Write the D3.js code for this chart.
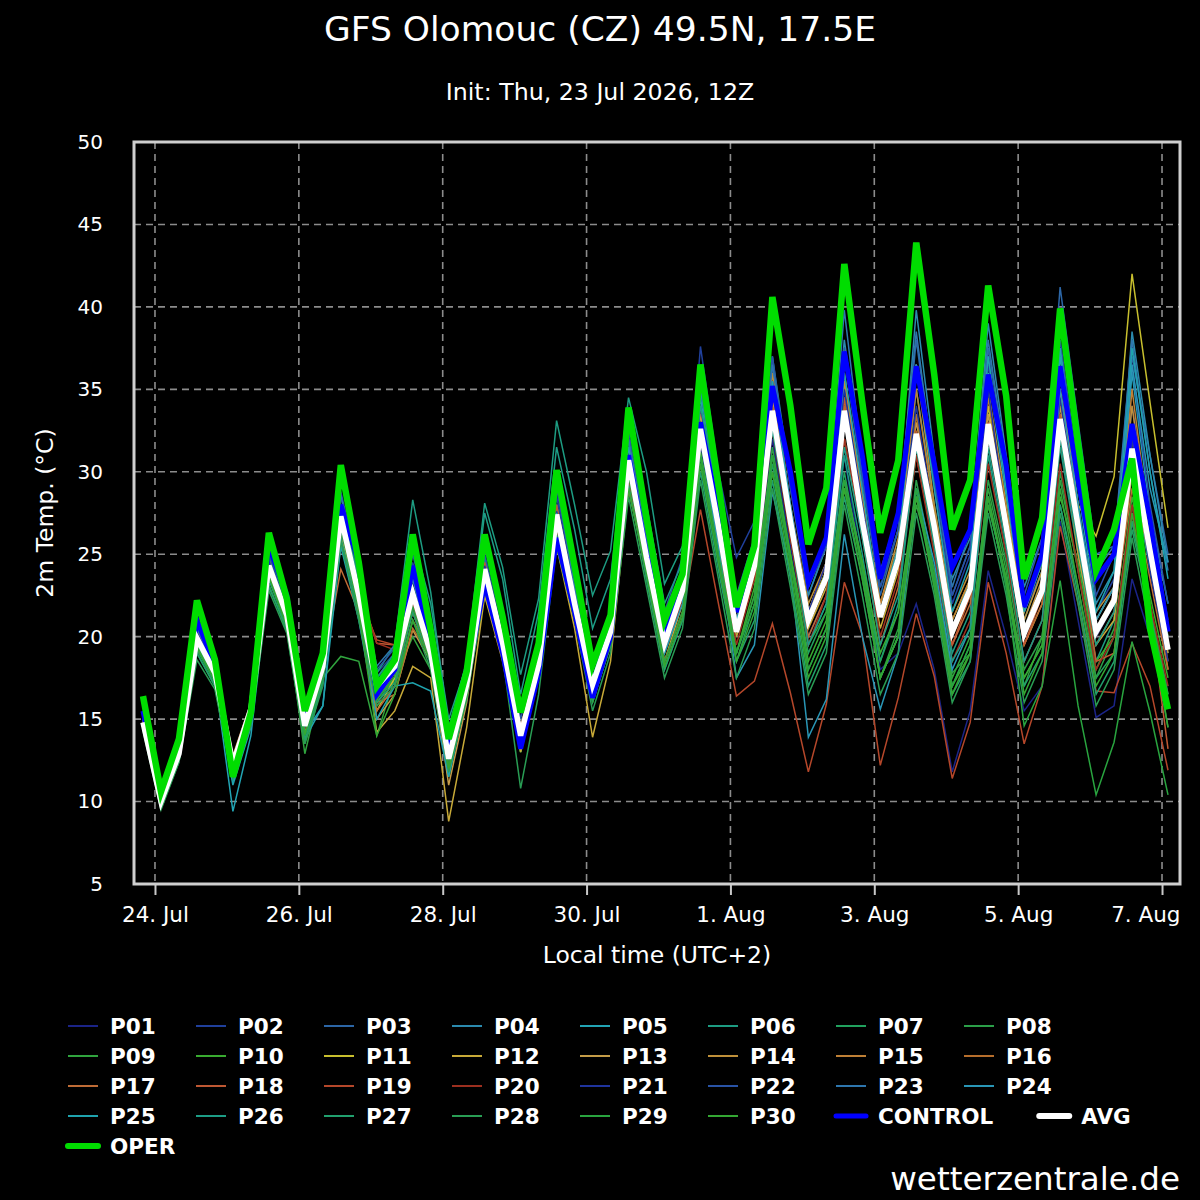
<!DOCTYPE html>
<html>
<head>
<meta charset="utf-8">
<script src="https://cdn.jsdelivr.net/npm/d3@7"></script>
<style type="text/css">
    body { margin: 0; background: #000; }
    svg { display: block; background: #000; }
    text { fill: #fff; font-family: "DejaVu Sans", sans-serif; }
    .title { font-size: 34.5px; text-anchor: middle; }
    .subtitle { font-size: 23.7px; text-anchor: middle; }
    .axis text { fill: #fff; font-family: "DejaVu Sans", sans-serif; }
    .yaxis text { font-size: 20px; }
    .xaxis text { font-size: 21.5px; }
    .axis path { display: none; }
    .axis line { stroke: #c8c8c8; stroke-width: 2; }
    .grid line { stroke: #8c8c8c; stroke-width: 1.6; stroke-dasharray: 7,5; }
    .label { font-size: 23.5px; text-anchor: middle; }
    .legend text { font-size: 21.5px; font-weight: bold; }
    .member { fill: none; stroke-width: 1.5; }
</style>
</head>
<body>
<div id="chart"></div>
<script type="text/javascript">
    // time of first value, local time UTC+2 (init 23 Jul 12Z + 6h), 6-hourly steps
    var firstStep = Date.UTC(2026, 6, 23, 20);
    var stepHours = 6;

    var oper = [16.4,10.6,13.8,22.2, 18.6,11.5,15.4,26.3, 22.3,15.5,19.0,30.4, 24.5,17.0,18.6,26.2,
        20.4,13.8,17.9,26.2, 21.2,15.4,19.6,30.1, 24.3,18.3,21.3,33.9, 27.2,21.0,23.8,36.5,
        29.2,21.8,25.5,40.6, 34.0,25.6,29.0,42.6, 34.2,26.3,30.7,43.9, 35.9,26.5,29.5,41.3,
        34.6,23.5,27.2,39.9, 31.7,24.0,26.5,30.8, 20.5,15.6];
    var avg = [14.8,10.0,12.9,19.9, 17.8,12.3,15.6,24.3, 21.3,14.6,18.2,27.3, 22.5,17.0,18.2,22.6,
        19.0,12.6,17.1,24.1, 19.6,14.0,18.3,27.4, 22.0,17.1,20.3,30.7, 24.8,19.6,22.8,32.6,
        26.7,20.3,24.3,33.7, 27.0,21.0,23.6,33.7, 27.0,21.2,24.7,32.3, 26.7,20.3,22.9,32.9,
        26.7,20.2,22.8,33.2, 26.7,20.3,22.2,31.4, 25.2,19.2];
    var control = [15.5,10.3,13.3,21.0, 18.2,11.8,15.5,25.5, 22.5,15.0,18.5,28.0, 24.5,16.5,18.0,24.3,
        19.5,13.0,17.5,23.2, 19.0,13.2,17.8,26.0, 21.5,16.3,20.0,31.0, 25.0,20.0,23.0,33.0,
        27.5,21.5,25.0,35.2, 30.0,23.3,26.0,37.3, 31.0,23.5,27.5,36.4, 30.5,24.2,26.5,35.9,
        30.4,21.8,25.0,36.4, 29.5,23.5,25.0,32.9, 27.0,20.3];

    var p01 = [15,10.2,13,20, 18,12.5,15.5,24.5, 21.5,14.8,18.5,27.5, 23,17.5,18.5,23.5, 19.5,13,17,24, 19.5,13.5,18,26.5, 21.5,16.5,20,30, 24,19,22,31.5, 26,20,23.5,32, 25.5,20,22.5,31, 24,18,19,22, 18,11.8,15.5,24, 20,15.5,17,27, 21,15.1,15.8,23.5, 20,17];
    var p02 = [15.2,10.4,13.2,20.5, 18.2,12.4,15.8,25, 22,15,18.8,28.5, 23.5,17.8,19,24.5, 20,13.5,17.5,25, 20.5,14.5,19,28.5, 23,18,21,32, 26,21,24,37.6, 30,24.8,27,36, 30,23,26,37, 30,23.5,27.5,36.5, 29,22,25,36.5, 29,21.5,24,35, 28,21.5,23.5,34, 27,21];
    var p03 = [14.8,10.1,13,20.2, 18,12.3,15.8,24.8, 21.8,15.2,18.6,28, 23,17.5,18.8,24, 19.5,13,17.3,24.8, 20,14.3,18.6,28, 22.5,17.5,20.8,31.5, 25.5,20.5,23.5,35, 28.5,22,25.5,36.5, 29,22.5,25.5,37, 29.5,22.5,26.5,38, 30,22.5,25.5,37.5, 30.5,23.5,27,41.2, 33,25,25.5,37, 31,25];
    var p04 = [15,9.8,12.8,19.8, 17.8,12,15.2,24, 21.2,14.4,18,27.5, 22.8,17.2,18.4,23.5, 19.2,12.4,17,24.5, 20,14.5,18.5,28, 22.5,17.5,21,32, 25.5,20,23.5,35, 28,21.5,25,37, 29.5,22.5,25.5,38, 30,23,26.5,39.8, 31,23.5,26,39, 31,23,26,37.5, 30,22,24,38.5, 31,24.5];
    var p05 = [14.5,9.8,12.6,19.5, 17.5,9.4,14,23.5, 20.8,14,17.5,26.5, 22,16.5,18,22.5, 19,12,16.8,24, 19.5,13.5,18,27, 22,16.5,20,30.5, 25,19.5,22.5,33.5, 27,20.5,24,35, 28,21.5,24.5,35.5, 28.5,21.5,25,35, 28,20.5,23.5,36, 28.5,21,24,37, 28,21,23,36, 27.5,22];
    var p06 = [14.6,10,13,20, 17.6,12,15.5,24.5, 21.5,14.8,18.5,27.8, 23.5,17.8,19.5,28.3, 22.7,14.5,18.5,28.1, 24.2,17.7,22.3,33.1, 28,22.5,25.2,34.5, 30,23.2,25.5,33, 28,21,23.5,33, 27,19.5,22,31, 25,18.5,22,31.5, 26,19,21.5,31, 25,18.5,21,31.5, 25,18.5,21,30, 24,19];
    var p07 = [14.5,9.8,12.6,19.2, 17.2,12,15,23.5, 20.5,14,17.5,26.5, 21.5,16,17.5,21.5, 18.5,12,16.5,23.5, 19,13,17.5,26.5, 21,16,19.5,29.5, 23.5,18,21,30.5, 24.5,18.5,22,30.5, 24.5,19,21.5,30, 24,18.5,21.5,28.5, 23.5,17,19.5,28, 23.5,17.5,19.5,28, 23,17.5,19,26.5, 21.5,16.5];
    var p08 = [14.4,9.6,12.5,19, 17,11.5,14.8,23.2, 20.3,13.5,17.2,26.2, 21.2,16.2,17.5,22, 18.8,12.2,16.8,23.8, 19.2,13.2,17.8,27.5, 21.5,16.5,19.8,29.8, 24,18.5,21.5,31, 25,19,22.5,31.5, 25,18,20.5,29, 24.5,17.5,20,29.5, 24,17.8,19,29.5, 24.5,18,20,30, 24,17.5,20,28, 22,16.5];
    var p09 = [14.6,9.9,12.8,19.5, 17.5,12,15.3,23.8, 20.8,12.9,17.5,18.8, 18.5,14,17.5,20, 18,11.5,16.5,22.5, 19,13,17.5,26, 21.5,16,19.5,29, 24,18.5,21.5,31, 25.5,19,22.5,30, 25,19.5,21.5,29.5, 24.5,17.5,20,28, 24,17.5,20,29, 24,17,20,29.5, 24,18,20.5,27, 22,16];
    var p10 = [14.7,10,12.9,19.8, 17.6,12.2,15.4,24, 21,14.5,18,27, 22,16.8,18,22, 18.8,12.4,16.8,23.5, 19.4,13.8,18,27, 21.5,16.5,19.8,29.5, 24.2,19,22,31.2, 25.5,19,23,31, 25,18.5,21,29.5, 24.5,19,21.5,29, 23.5,17,19,28, 23.5,17.5,19.5,28.5, 24.5,18.5,20,28.5, 22.5,17.5];
    var p11 = [14.9,10.1,13,20, 17.9,12.4,15.6,24.2, 21.2,14.6,18.2,27, 22,15.5,17.5,23, 19,12.5,17,24, 19.5,14.5,18.5,27, 22,17,20,30.5, 25,20,23,33, 27,21,24.5,34, 27.5,21.5,24,34.5, 27.5,21.5,25,33.5, 27,21,23.5,34, 27,21.5,24.5,35, 28,26.1,29.7,42, 34.2,26.6];
    var p12 = [14.7,10,12.9,19.8, 17.8,12.3,15.5,24, 21,14.3,17.8,25.5, 22,14.2,15.5,18.2, 17.5,8.8,14.5,22.5, 18.5,13,17.5,25.5, 20.5,13.9,18.5,29, 24,18.5,22,32, 26,20,23.5,33, 26.5,20.5,23,33.5, 26.5,20.5,24,32, 26,20,22.5,32.5, 26.5,19.5,22,33, 25,19.5,21,30, 24.5,18];
    var p13 = [14.8,10.2,13.1,20.1, 18,12.5,15.8,24.5, 21.5,14.8,18.3,26, 22.5,15,16.5,20.4, 18.5,11,16,23.5, 19.5,14,18.5,27, 22,16.5,20,30, 25,20,23,33.5, 27,21,25,34.5, 27.5,21.5,24.5,34.5, 28,22,25.5,33, 27.5,20.5,23,33.5, 27,20.5,23.5,34, 27,20.5,22.5,32, 25.5,19];
    var p14 = [14.9,10.1,13,19.9, 17.9,12.4,15.7,24.4, 21.3,14.7,18.3,27.2, 22.3,16.2,17.8,21.5, 18.8,12.3,17,24, 19.5,14,18.4,27.2, 22,17,20.5,31, 25.2,20,23.2,34, 27.5,21.5,25,36, 28,22,24.5,35.5, 28.5,22,26,36.5, 28,21.5,24,35, 28,21,24,36, 27.5,21.5,23,34, 26,20];
    var p15 = [15,10.3,13.2,20.3, 18.3,12.6,16,24.6, 21.6,14.8,18.4,27, 22.6,15.8,17,22, 19,12.5,17.2,24.3, 19.8,14.2,18.5,27.5, 22,17.2,20.5,30.8, 25,20,23,33, 27,21,24.5,35, 28,21.5,24.5,36, 28.5,22,25.5,35, 27.5,21,23.5,34.5, 27.5,20.5,23,34.5, 27,21,23,35, 26.5,20.5];
    var p16 = [15.1,10.2,13.1,20.4, 18.5,12.8,16,24.5, 21.5,14.7,18.3,26.5, 22.5,16,16.5,20.5, 18.8,12.5,17,24, 19.5,14,18.2,27, 21.8,17,20.3,30.5, 24.8,19.8,22.8,32.5, 26.5,20.5,24,34, 27,21,23.5,34, 27.5,21.5,24.5,33.5, 27,20.5,23,33, 27,20.5,22.5,33.5, 26.5,20,22,31, 24.5,18.5];
    var p17 = [15,10,13,20, 18.8,12.5,15.8,24.2, 21.5,14.5,18,24.1, 21.5,15.5,17,21, 19,12.8,17.5,24, 19.5,14,18.5,27.5, 22,17,20.5,31, 25,19.5,22.5,32.5, 27,20.5,24,33.5, 26,20,22.5,32, 26,19.5,23,31, 25.5,19.5,22,32, 26,19.5,22,32, 25.5,19.5,21.5,29, 23.5,18];
    var p18 = [15,10.1,13,20.2, 18.3,12.5,15.8,24.3, 21.6,14.6,18.3,27, 23,19.6,19.5,22.5, 19,12.8,17.2,24.5, 20,14.5,18.8,28, 22.5,17.5,20.5,31, 25,20,23,34, 27,21,24.5,35, 27.5,21,24,34.5, 27.5,21.5,25,32.5, 26.5,19.5,22.5,33, 26.5,19.5,22.5,33.5, 26,18.5,19,27.5, 21.5,13.2];
    var p19 = [14.8,10,12.9,19.8, 17.8,12.2,15.5,24, 21,14.5,18,26.5, 22.5,19.8,19.5,21.5, 18.5,12.5,17,23.5, 19,13.5,17.8,26.5, 21.5,16.5,19.5,29.5, 24,18.5,21.5,27.7, 22,16.4,17.3,20.8, 16.6,11.8,15.9,23.3, 20.1,12.2,16.3,21.4, 17.6,11.4,14.8,23.3, 19,13.5,17,26.7, 22,16.7,16.6,19.6, 17,11.9];
    var p20 = [14.9,10,12.8,19.6, 17.6,12.1,15.4,23.8, 21,14.4,18,26.8, 22.8,19.6,19.2,22, 18.8,12.4,16.8,23.8, 19.2,13.6,18,27, 21.8,16.8,20,30, 24.5,19.2,22.2,32, 26,19.5,23.5,32.5, 26,19.5,22.5,32, 26.5,20,23.5,31, 25,18.5,21,30.5, 25,18.5,21,30.5, 24,18,20,28, 22,17];
    var p21 = [15,10.3,13.1,20.3, 18,12.4,15.7,24.6, 21.5,14.7,18.4,27.5, 22.8,17,18.2,23, 19.3,12.8,17.2,24.3, 19.8,14.2,18.4,27.6, 22.2,17.2,20.5,31, 25.5,20.2,23.5,34, 27.5,21,24.8,35.5, 28,21.5,24.5,35, 28,21.5,25,34, 27,20,23,35, 27,20.5,23,34.5, 27,20,22,32, 24,18.5];
    var p22 = [15.1,10.2,13.2,20.6, 18.4,12.6,16,25.2, 22,15.2,18.8,28.8, 24,18,19.3,25, 20.5,14,17.8,25.5, 21,15,19.5,29, 23,18,21.5,32.5, 26,21.5,24.8,36, 29,22.5,26,37, 29,23,25.5,37.5, 29.5,23,26.5,36.5, 29.5,22.5,25.5,37, 29.5,22.5,26,38, 30,22.5,25,36.5, 28,22];
    var p23 = [15,10.2,13.1,20.5, 18.2,12.5,15.9,25.5, 21.8,15.4,19,28.6, 23.8,18.2,19.5,25.5, 20.8,14.2,18,25.8, 21.5,15.5,20,29.5, 23,18.2,21.2,32, 25.8,20.8,24,35.5, 28.5,22,25.5,36.5, 29.5,23.5,26,39.8, 30.5,24,27.5,38.5, 30,23,26.5,38, 30.5,23.5,27,39.5, 31,24,25.5,38, 30,24];
    var p24 = [14.6,9.7,12.7,19.6, 17.5,11.2,14.8,24, 21,14.2,15.8,26.5, 22.5,17,18,22.5, 19,12.5,17,24, 19.5,14,18,27, 22,17,20,30.5, 24.5,19,22,32, 25.5,17.5,19.5,28.8, 24,13.9,16.2,26.2, 20,15.6,19,29, 24.5,18,20.5,32, 27,20.5,23,35, 28,21,23,36.5, 29,24.5];
    var p25 = [14.5,9.7,12.6,19.4, 17.4,11,14.5,23.5, 20.8,13.8,15.8,25.5, 21,15,17,17.2, 16.7,11.5,16.5,23.5, 19.5,14,18.2,27.5, 22.5,17.5,20.8,31.5, 25.5,20,23,34.5, 27.5,21,24.5,35.5, 28,21,24,36, 29,21.5,25.5,36.5, 29,21.5,24.5,37, 29,21.5,24.5,37.5, 29,21.5,24,37.5, 30,23.5];
    var p26 = [14.7,9.9,12.9,19.8, 17.7,12.1,15.3,24.2, 21.2,14.5,18.1,27.5, 23,17.5,19,26, 22,15,18.3,27.5, 23.5,16.5,21.5,31.5, 26.5,20.5,23.5,33.5, 28,22,24.5,34, 28.5,21.5,24.5,32.5, 26.5,19.5,22,31.5, 26,19.5,22.5,31.5, 25.5,18.5,20.5,31.5, 25.5,18.5,21,32, 25.5,19.5,21.5,31, 25,20];
    var p27 = [14.4,9.6,12.4,19, 17,11.6,14.8,23, 20.5,13.7,17.3,26, 21.5,16,17.2,21.5, 18.3,12,16.4,23.2, 19,13.3,17.6,26.2, 21.2,16.2,19.4,29.2, 23.5,18,21,30, 24,18.5,21,29.5, 23.5,17,19.5,28.5, 23.5,17.5,20,29, 23,16.5,18.5,28.5, 23,17,19,28, 22.5,16.5,18.5,27, 21.5,16];
    var p28 = [14.3,9.5,12.4,18.6, 16.8,11.4,14.6,22.8, 20.2,13.5,17,25.8, 21,15.8,17,21, 18,11.8,16.2,22.8, 18.8,10.8,16.5,25.5, 21,15.5,19,28.5, 23,17.5,20.5,29.5, 23.5,17.5,20.5,29, 23,16.5,19,28, 22.5,16.5,19,27.5, 22.5,16,18.5,27.5, 22.5,16,18.5,27.5, 22,15.8,18,26, 20.5,14.5];
    var p29 = [14.5,9.8,12.6,19.3, 17.3,11.8,15,23.6, 20.6,14,17.6,26.6, 21.8,16.2,17.6,21.8, 18.6,12.2,16.6,23.6, 19.3,13.4,17.8,27, 21.5,16.3,19.7,29.8, 24,18.5,21.5,31, 25,19,22,31, 24.5,18,20.5,29.5, 24,17.5,20.5,29, 23.5,17,19.5,28.5, 23,14.6,17,23.4, 15.8,10.4,13.6,19.7, 15.4,10.4];
    var p30 = [14.6,9.9,12.7,19.4, 17.4,11.9,15.1,23.7, 20.7,14.1,17.7,26.8, 21.6,14,16.5,21, 18.5,12,16.5,23.5, 19.2,13.5,17.8,26.8, 21.5,16.5,19.5,29, 23.8,18.2,21.2,30.5, 24.5,18.5,21.5,30, 24,17.5,20,29, 23.5,17.5,20,28.5, 23,16.5,19,28.5, 23.5,16.5,19,29, 23,17,19,27.5, 21,14.5];

    var members = [p01, p02, p03, p04, p05, p06, p07, p08, p09, p10,
        p11, p12, p13, p14, p15, p16, p17, p18, p19, p20,
        p21, p22, p23, p24, p25, p26, p27, p28, p29, p30];
    var memberNames = members.map(function (d, i) { return "P" + (i < 9 ? "0" : "") + (i + 1); });
    var memberColors = ["#1b2488", "#20409c", "#2c66a6", "#2b8aae", "#22a4b4", "#1d9c82", "#21a25e", "#2b9f48", "#30a43e", "#39ab30",
        "#c8bf2e", "#c8aa38", "#c49c48", "#bf903a", "#bf8036", "#b66e2c", "#bf6c36", "#bf5833", "#b5472a", "#9c2f1f",
        "#1f349e", "#2953a6", "#2e76ae", "#2996b6", "#1fa3ae", "#1d9d86", "#21a06e", "#299d54", "#29a43f", "#34a733"];

    var yTicks = [5, 10, 15, 20, 25, 30, 35, 40, 45, 50];
    var xTickDates = [Date.UTC(2026, 6, 24), Date.UTC(2026, 6, 26), Date.UTC(2026, 6, 28), Date.UTC(2026, 6, 30),
        Date.UTC(2026, 7, 1), Date.UTC(2026, 7, 3), Date.UTC(2026, 7, 5), Date.UTC(2026, 7, 7)];
    var xTickLabels = ["24. Jul", "26. Jul", "28. Jul", "30. Jul", "1. Aug", "3. Aug", "5. Aug", "7. Aug"];

    var margin = { top: 142, left: 134, bottom: 316, right: 20 };
    var width = 1200 - margin.left - margin.right;
    var height = 1200 - margin.top - margin.bottom;

    var svgRoot = d3.select("#chart").append("svg")
        .attr("width", 1200)
        .attr("height", 1200);

    svgRoot.append("text").attr("class", "title")
        .attr("x", 600).attr("y", 41)
        .text("GFS Olomouc (CZ) 49.5N, 17.5E");
    svgRoot.append("text").attr("class", "subtitle")
        .attr("x", 600).attr("y", 100)
        .text("Init: Thu, 23 Jul 2026, 12Z");

    var svg = svgRoot.append("g")
        .attr("transform", "translate(" + margin.left + "," + margin.top + ")");

    var x = d3.scaleUtc()
        .domain([Date.UTC(2026, 6, 23, 17), Date.UTC(2026, 7, 7, 6)])
        .range([0, width]);
    var y = d3.scaleLinear()
        .domain([5, 50])
        .range([height, 0]);

    function timeAt(i) { return new Date(firstStep + i * stepHours * 3600 * 1000); }

    // grid
    var grid = svg.append("g").attr("class", "grid");
    grid.selectAll("line.h")
        .data(yTicks.slice(1, -1))
        .enter().append("line")
        .attr("class", "h")
        .attr("x1", 0).attr("x2", width)
        .attr("y1", function (d) { return y(d); })
        .attr("y2", function (d) { return y(d); });
    grid.selectAll("line.v")
        .data(xTickDates)
        .enter().append("line")
        .attr("class", "v")
        .attr("y1", 0).attr("y2", height)
        .attr("x1", function (d) { return x(d); })
        .attr("x2", function (d) { return x(d); });

    // axes
    var yAxis = d3.axisLeft(y).tickValues(yTicks).tickSize(0).tickPadding(31);
    svg.append("g").attr("class", "axis yaxis").call(yAxis);

    var xAxis = d3.axisBottom(x)
        .tickValues(xTickDates.map(function (d) { return new Date(d); }))
        .tickFormat(function (d, i) { return xTickLabels[i]; })
        .tickSize(11)
        .tickPadding(12);
    var gx = svg.append("g").attr("class", "axis xaxis")
        .attr("transform", "translate(0," + height + ")")
        .call(xAxis);

    // last date label is kept inside the frame
    var lastDate = xTickDates[xTickDates.length - 1];
    gx.selectAll(".tick text")
        .filter(function (d) { return +d === lastDate; })
        .attr("text-anchor", "end")
        .attr("x", width - x(lastDate));

    var line = d3.line()
        .x(function (d, i) { return x(timeAt(i)); })
        .y(function (d) { return y(d); });

    svg.selectAll("path.member")
        .data(members)
        .enter().append("path")
        .attr("class", "member")
        .attr("stroke", function (d, i) { return memberColors[i]; })
        .attr("d", line);

    svg.append("path").datum(control)
        .attr("fill", "none").attr("stroke", "#0000ff").attr("stroke-width", 5)
        .attr("d", line);
    svg.append("path").datum(avg)
        .attr("fill", "none").attr("stroke", "#ffffff").attr("stroke-width", 5.5)
        .attr("d", line);
    svg.append("path").datum(oper)
        .attr("fill", "none").attr("stroke", "#00dd00").attr("stroke-width", 6.5)
        .attr("d", line);

    // frame
    svg.append("rect")
        .attr("width", width).attr("height", height)
        .attr("fill", "none").attr("stroke", "#cfcfcf").attr("stroke-width", 3);

    // axis titles
    svgRoot.append("text").attr("class", "label")
        .attr("x", 657).attr("y", 963)
        .text("Local time (UTC+2)");
    svgRoot.append("text").attr("class", "label")
        .attr("transform", "translate(53,513) rotate(-90)")
        .text("2m Temp. (°C)");

    // legend: 8 per row, an entry moves right only when the previous label is too long
    var legendItems = memberNames.map(function (n, i) {
        return { name: n, color: memberColors[i], w: 2 };
    }).concat([
        { name: "CONTROL", color: "#0000ff", w: 5 },
        { name: "AVG", color: "#ffffff", w: 6 },
        { name: "OPER", color: "#00dd00", w: 6 }
    ]);

    var legend = svgRoot.append("g").attr("class", "legend")
        .attr("transform", "translate(68,1026)");
    var item = legend.selectAll("g")
        .data(legendItems)
        .enter().append("g");
    item.append("line")
        .attr("x1", 0).attr("x2", 30)
        .attr("stroke", function (d) { return d.color; })
        .attr("stroke-width", function (d) { return d.w; })
        .attr("stroke-linecap", function (d) { return d.w > 2 ? "round" : "butt"; });
    item.append("text")
        .attr("x", 42).attr("y", 8)
        .text(function (d) { return d.name; });

    var prevEnd = 0;
    item.attr("transform", function (d, i) {
        var col = i % 8;
        var px = col * 128;
        if (col > 0 && prevEnd + 38 > px) px = prevEnd + 46;
        prevEnd = px + 42 + this.querySelector("text").getComputedTextLength();
        return "translate(" + px + "," + Math.floor(i / 8) * 30 + ")";
    });

    svgRoot.append("text")
        .attr("x", 1180).attr("y", 1190)
        .attr("text-anchor", "end")
        .style("font-size", "32.6px")
        .text("wetterzentrale.de");
</script>
</body>
</html>
